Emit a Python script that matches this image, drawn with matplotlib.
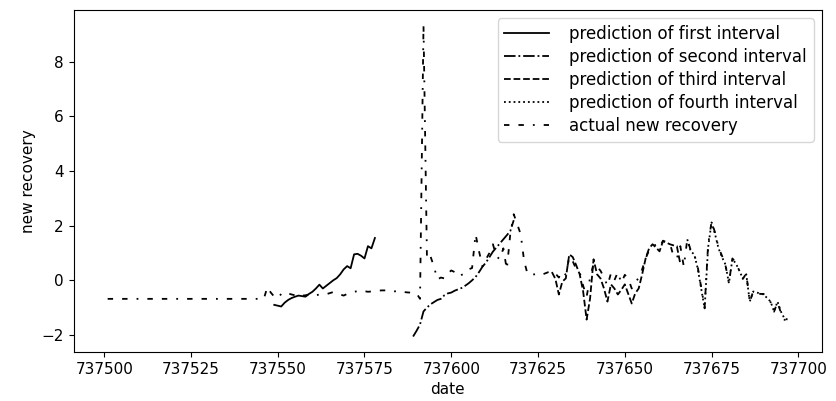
import matplotlib
matplotlib.use("Agg")
import matplotlib.pyplot as plt

# ---- data ----
first_days = list(range(737549, 737579))
first_vals = [-0.90, -0.93, -0.96, -0.82, -0.72, -0.65, -0.60, -0.56, -0.58, -0.60,
              -0.50, -0.42, -0.30, -0.16, -0.30, -0.20, -0.10, 0.00, 0.08, 0.22,
              0.40, 0.52, 0.44, 0.95, 0.97, 0.90, 0.80, 1.25, 1.17, 1.55]

second_days = list(range(737589, 737619))
second_vals = [-2.06, -1.85, -1.62, -1.14, -1.00, -0.88, -0.80, -0.72, -0.68, -0.55,
               -0.48, -0.45, -0.38, -0.33, -0.28, -0.20, -0.11, 0.00, 0.12, 0.30,
               0.50, 0.65, 0.85, 1.05, 1.20, 1.35, 1.50, 1.65, 1.80, 2.20]

third_days = list(range(737629, 737667))
third_vals = [0.30, 0.05, -0.52, -0.05, 0.07, 0.95, 0.85, 0.55, 0.22, -0.41,
              -1.44, -0.66, 0.77, 0.22, 0.07, -0.30, -0.78, -0.15, -0.30, -0.52,
              -0.35, -0.15, -0.50, -0.85, -0.48, -0.30, 0.22, 0.80, 1.17, 1.32,
              1.20, 1.06, 1.43, 1.38, 1.32, 1.28, 1.25, 0.60]

fourth_days = list(range(737668, 737698))
fourth_vals = [1.50, 1.06, 0.95, 0.44, -0.30, -1.03, 1.20, 2.12, 1.69, 1.17,
               0.85, 0.58, -0.11, 0.77, 0.62, 0.35, 0.07, 0.22, -0.78, -0.41,
               -0.45, -0.48, -0.52, -0.65, -0.78, -1.14, -0.78, -1.15, -1.40, -1.44]

actual_days = list(range(737501, 737698))
actual_vals = [
    # 737501-737546
    -0.68, -0.68, -0.68, -0.68, -0.68, -0.68, -0.68, -0.68, -0.68, -0.68,
    -0.68, -0.68, -0.68, -0.68, -0.68, -0.68, -0.68, -0.68, -0.68, -0.68,
    -0.68, -0.68, -0.68, -0.68, -0.68, -0.68, -0.68, -0.68, -0.68, -0.68,
    -0.68, -0.68, -0.68, -0.68, -0.68, -0.68, -0.68, -0.68, -0.68, -0.68,
    -0.68, -0.68, -0.68, -0.68, -0.68, -0.68,
    # 737547-737592
    -0.25, -0.45, -0.60, -0.66, -0.50, -0.43, -0.48, -0.52, -0.55, -0.50,
    -0.56, -0.55, -0.52, -0.50, -0.55, -0.52, -0.50, -0.51, -0.47, -0.43,
    -0.48, -0.52, -0.56, -0.50, -0.45, -0.42, -0.40, -0.37, -0.40, -0.42,
    -0.41, -0.39, -0.38, -0.37, -0.37, -0.40, -0.42, -0.40, -0.38, -0.42,
    -0.44, -0.45, -0.48, -0.48, -0.68, 9.33,
    # 737593-737622
    0.77, 0.88, 0.51, 0.03, 0.10, 0.07, 0.25, 0.36, 0.30, 0.14,
    0.20, 0.25, 0.40, 0.45, 1.69, 1.06, 0.51, 0.77, 1.00, 1.32,
    0.88, 0.77, 1.17, 0.40, 1.69, 2.42, 2.05, 1.69, 0.70, 0.22,
    # 737623-737667
    0.20, 0.22, 0.25, 0.20, 0.25, 0.30, 0.33, 0.25, 0.10, 0.33,
    0.20, 0.85, 0.70, 0.40, 0.30, -0.20, -0.60, 0.10, 0.60, 0.50,
    0.35, 0.10, -0.20, 0.25, 0.00, 0.30, -0.10, 0.20, 0.05, -0.30,
    -0.10, 0.10, 0.40, 0.80, 1.10, 1.25, 1.30, 1.20, 1.45, 1.40,
    1.35, 0.90, 0.80, 1.25, 0.50,
    # 737668-737697
    1.50, 1.10, 0.95, 0.50, -0.25, -1.00, 1.30, 2.15, 1.75, 1.20,
    0.90, 0.55, -0.10, 0.80, 0.65, 0.35, 0.05, 0.25, -0.80, -0.40,
    -0.42, -0.50, -0.50, -0.62, -0.80, -1.15, -0.80, -1.20, -1.45, -1.40,
]

xticks = [737500, 737525, 737550, 737575, 737600, 737625, 737650, 737675, 737700]
yticks = [-2, 0, 2, 4, 6, 8]

labels = ["prediction of first interval", "prediction of second interval",
          "prediction of third interval", "prediction of fourth interval",
          "actual new recovery"]

fig = plt.figure(figsize=(8.37, 4.01), dpi=100)
ax = fig.add_axes([0.088, 0.122, 0.894, 0.853])
lw = 1.3
ax.plot(first_days, first_vals, color="black", linestyle="-", lw=lw, label=labels[0])
ax.plot(second_days, second_vals, color="black", linestyle="-.", lw=lw, label=labels[1])
ax.plot(third_days, third_vals, color="black", linestyle="--", lw=lw, label=labels[2])
ax.plot(fourth_days, fourth_vals, color="black", linestyle=":", lw=lw, label=labels[3])
ax.plot(actual_days, actual_vals, color="black", linestyle=(0, (3, 5, 3, 5, 1, 5)), lw=lw,
        label=labels[4])

ax.set_xticks(xticks)
ax.set_xticklabels([str(t) for t in xticks])
ax.set_yticks(yticks)
ax.tick_params(labelsize=11)
ax.set_xlabel("date", fontsize=11)
ax.set_ylabel("new recovery", fontsize=11)
ax.legend(loc="upper right", fontsize=12, handlelength=2.7, handletextpad=1.2,
          labelspacing=0.3, borderpad=0.4)

fig.savefig("out.png", dpi=100)
